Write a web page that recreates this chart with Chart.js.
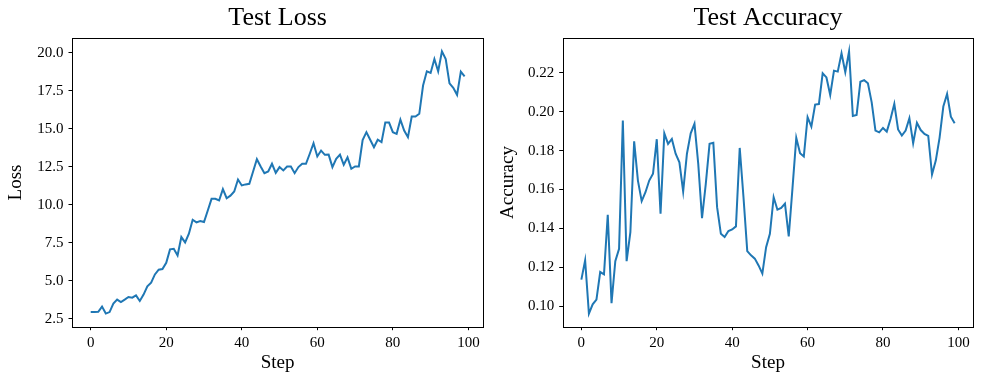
<!DOCTYPE html>
<html>
<head>
<meta charset="utf-8">
<script src="https://cdn.jsdelivr.net/npm/chart.js@4.4.1/dist/chart.umd.min.js"></script>
<style>
  html, body { margin: 0; padding: 0; background: #fff; }
  #wrap { position: relative; width: 984px; height: 384px; overflow: hidden; }
  canvas { position: absolute; top: 0; }
  #c1 { left: 0; }
  #c2 { left: 492px; }
</style>
</head>
<body>
<div id="wrap">
  <canvas id="c1" width="492" height="384" style="width:492px;height:384px"></canvas>
  <canvas id="c2" width="492" height="384" style="width:492px;height:384px"></canvas>
</div>
<script>
// ---- data ----
const steps = [0,1,2,3,4,5,6,7,8,9,10,11,12,13,14,15,16,17,18,19,20,21,22,23,24,25,26,27,28,29,30,31,32,33,34,35,36,37,38,39,40,41,42,43,44,45,46,47,48,49,50,51,52,53,54,55,56,57,58,59,60,61,62,63,64,65,66,67,68,69,70,71,72,73,74,75,76,77,78,79,80,81,82,83,84,85,86,87,88,89,90,91,92,93,94,95,96,97,98,99];

const testLoss = [2.93,2.93,2.95,3.29,2.83,2.93,3.49,3.75,3.59,3.75,
  3.92,3.88,4.03,3.66,4.08,4.62,4.87,5.41,5.72,5.76,
  6.18,7.06,7.10,6.66,7.87,7.52,8.09,9.01,8.84,8.93,
  8.86,9.62,10.39,10.39,10.28,11.03,10.43,10.60,10.87,11.66,
  11.27,11.34,11.38,12.19,13.00,12.52,12.08,12.19,12.70,12.10,
  12.48,12.26,12.52,12.52,12.08,12.48,12.70,12.70,13.36,14.05,
  13.18,13.57,13.29,13.30,12.48,13.03,13.30,12.63,13.12,12.37,
  12.52,12.52,14.26,14.78,14.28,13.79,14.28,14.12,15.41,15.41,
  14.78,14.67,15.61,14.89,14.45,15.81,15.81,15.99,17.85,18.79,
  18.68,19.60,18.79,20.10,19.60,18.00,17.70,17.24,18.77,18.46];

const testAccuracy = [0.1136,0.1235,0.0961,0.1009,0.1033,0.1175,0.1163,0.1470,0.1015,0.1231,
  0.1295,0.1955,0.1231,0.1380,0.1848,0.1646,0.1540,0.1586,0.1646,0.1681,
  0.1859,0.1475,0.1889,0.1835,0.1860,0.1784,0.1740,0.1590,0.1784,0.1889,
  0.1938,0.1732,0.1452,0.1629,0.1835,0.1840,0.1509,0.1372,0.1355,0.1386,
  0.1394,0.1410,0.1814,0.1560,0.1283,0.1261,0.1244,0.1209,0.1167,0.1303,
  0.1372,0.1560,0.1496,0.1505,0.1527,0.1358,0.1608,0.1866,0.1787,0.1770,
  0.1972,0.1924,0.2037,0.2040,0.2198,0.2177,0.2087,0.2212,0.2207,0.2301,
  0.2204,0.2311,0.1979,0.1984,0.2155,0.2163,0.2147,0.2049,0.1903,0.1894,
  0.1917,0.1898,0.1963,0.2041,0.1909,0.1878,0.1903,0.1967,0.1838,0.1943,
  0.1906,0.1886,0.1876,0.1677,0.1749,0.1866,0.2027,0.2092,0.1975,0.1941];

const xTickStep = 20;
const lossTickStep = 2.5;
const accTickStep = 0.02;

// ---- styling ----
const FONT = "'Liberation Serif', 'Times New Roman', serif";
const LINE_COLOR = '#1f77b4';
Chart.defaults.color = '#000';
Chart.defaults.font.family = FONT;

function margins(arr, frac) {
  const mn = Math.min(...arr), mx = Math.max(...arr);
  const r = mx - mn;
  return [mn - frac * r, mx + frac * r];
}

const frame = {
  id: 'frame',
  afterDraw(chart) {
    const a = chart.chartArea, ctx = chart.ctx;
    ctx.save();
    ctx.strokeStyle = '#000';
    ctx.lineWidth = 1;
    const l = Math.round(a.left) + 0.5, t = Math.round(a.top) + 0.5;
    const r = Math.round(a.right) + 0.5, b = Math.round(a.bottom) + 0.5;
    ctx.strokeRect(l, t, r - l, b - t);
    ctx.restore();
  }
};

function makeChart(canvasId, title, yLabel, values, yStep, yDecimals, yAxisWidth, padRight) {
  const [xmin, xmax] = margins(steps, 0.05);
  const [ymin, ymax] = margins(values, 0.05);
  return new Chart(document.getElementById(canvasId), {
    type: 'line',
    data: {
      datasets: [{
        data: steps.map((s, i) => ({ x: s, y: values[i] })),
        borderColor: LINE_COLOR,
        borderWidth: 2,
        pointRadius: 0,
        tension: 0,
        fill: false
      }]
    },
    options: {
      responsive: false,
      animation: false,
      events: [],
      layout: { padding: { left: 0, right: padRight, top: 0, bottom: 0 } },
      plugins: {
        legend: { display: false },
        tooltip: { enabled: false },
        title: {
          display: true,
          text: title,
          fullSize: false,
          color: '#000',
          font: { family: FONT, size: 26, weight: 'normal', lineHeight: 1.2 },
          padding: { top: 2.3, bottom: 4.8 }
        }
      },
      scales: {
        x: {
          type: 'linear',
          min: xmin,
          max: xmax,
          afterFit: (s) => { s.height = 57.3; },
          border: { display: false },
          grid: { drawOnChartArea: false, drawTicks: true, tickLength: 3.5, color: '#000', lineWidth: 1 },
          ticks: {
            stepSize: xTickStep,
            includeBounds: false,
            padding: 4,
            color: '#000',
            maxRotation: 0,
            autoSkip: false,
            font: { family: FONT, size: 15 },
            callback: (v) => String(Math.round(v))
          },
          title: {
            display: true,
            text: 'Step',
            color: '#000',
            font: { family: FONT, size: 19, lineHeight: 1.2 },
            padding: { top: 0, bottom: 10 }
          }
        },
        y: {
          type: 'linear',
          min: ymin,
          max: ymax,
          afterFit: (s) => { s.width = yAxisWidth; },
          border: { display: false },
          grid: { drawOnChartArea: false, drawTicks: true, tickLength: 3.5, color: '#000', lineWidth: 1 },
          ticks: {
            stepSize: yStep,
            includeBounds: false,
            padding: 5,
            color: '#000',
            autoSkip: false,
            font: { family: FONT, size: 15 },
            callback: (v) => Number(v).toFixed(yDecimals)
          },
          title: {
            display: true,
            text: yLabel,
            color: '#000',
            font: { family: FONT, size: 19, lineHeight: 1.2 },
            padding: { top: 5, bottom: 0 }
          }
        }
      }
    },
    plugins: [frame]
  });
}

makeChart('c1', 'Test Loss', 'Loss', testLoss, lossTickStep, 1, 72, 8.7);
makeChart('c2', 'Test Accuracy', 'Accuracy', testAccuracy, accTickStep, 2, 70.7, 10.7);
</script>
</body>
</html>
